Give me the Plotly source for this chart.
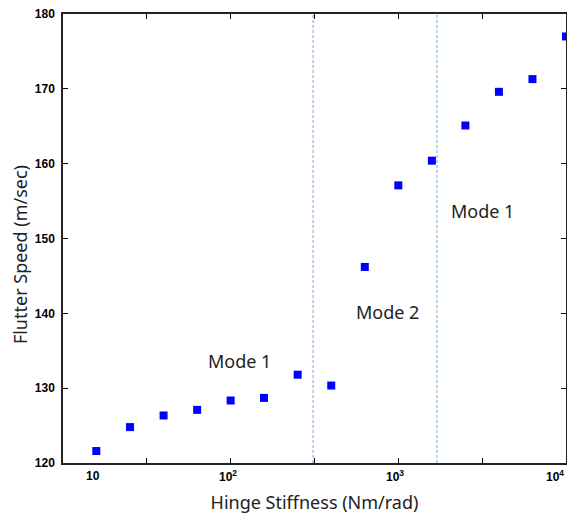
import math
import plotly.graph_objects as go

# Data
stiffness = [15.8, 25.1, 39.8, 63.1, 100, 158, 251, 398, 631, 1000, 1585, 2512, 3981, 6310, 10000]
flutter_speed = [121.6, 124.8, 126.35, 127.1, 128.35, 128.7, 131.8, 130.35,
                 146.2, 157.1, 160.4, 165.1, 169.6, 171.3, 177.0]
mode_boundaries = [310, 1700]
mode_labels = [("Mode 1", 113, 133.6), ("Mode 2", 867, 140.2), ("Mode 1", 3190, 153.7)]
xtick_marks = [10**1.5, 10**2, 10**2.5, 10**3, 10**3.5, 10**4]
xtick_labels = [(15.1, "10", "center"), (96, "10<sup>2</sup>", "center"),
                (955, "10<sup>3</sup>", "center"), (10000, "10<sup>4</sup>", "right")]
yticks = [120, 130, 140, 150, 160, 170, 180]

fig = go.Figure()
for xb in mode_boundaries:
    fig.add_trace(go.Scatter(
        x=[xb, xb], y=[120, 180], mode="lines",
        line=dict(color="#6aaae0", width=1, dash="3px,2px"),
        showlegend=False, hoverinfo="skip",
    ))

fig.add_trace(go.Scatter(
    x=stiffness, y=flutter_speed, mode="markers",
    marker=dict(symbol="square", size=8, color="#0000ff", line=dict(width=0)),
    cliponaxis=False, showlegend=False,
))

for txt, xv, yv in mode_labels:
    fig.add_annotation(x=math.log10(xv), y=yv, xref="x", yref="y", text=txt, showarrow=False,
                       font=dict(family="Noto Sans", size=18, color="#222222"))

for xv, txt, anc in xtick_labels:
    fig.add_annotation(x=math.log10(xv), y=0, xref="x", yref="paper", yshift=-13,
                       xanchor=anc, yanchor="middle",
                       text="<b>" + txt + "</b>", showarrow=False,
                       font=dict(family="Liberation Sans", size=12, color="#000000"))

# y-axis title (placed as in the reference, slightly below plot centre)
fig.add_annotation(x=0, y=0.463, xref="paper", yref="paper", xshift=-43,
                   xanchor="center", yanchor="middle", textangle=-90,
                   text="Flutter Speed (m/sec)", showarrow=False,
                   font=dict(family="Noto Sans", size=18, color="#222"))

fig.update_xaxes(
    type="log", range=[1, 4], tickvals=xtick_marks, showticklabels=False,
    ticks="inside", ticklen=5, tickwidth=1.2, tickcolor="#000",
    showline=True, linecolor="#222", linewidth=1.5, mirror="ticks",
    showgrid=False, zeroline=False, automargin=False,
    title=dict(text="Hinge Stiffness (Nm/rad)", standoff=33,
               font=dict(family="Noto Sans", size=18, color="#222")),
)
fig.update_yaxes(
    range=[120, 180], tickvals=yticks, ticktext=["<b>%d</b>" % v for v in yticks],
    ticks="inside", ticklen=5, tickwidth=1.2, tickcolor="#000",
    showline=True, linecolor="#222", linewidth=1.5, mirror="ticks",
    showgrid=False, zeroline=False, ticklabelstandoff=4, automargin=False,
    tickfont=dict(family="Liberation Sans", size=12, color="#000"),
)
fig.update_layout(
    width=567, height=515,
    margin=dict(l=63, r=1, t=14, b=52),
    plot_bgcolor="white", paper_bgcolor="white",
)
fig.write_html("out.html", config={"displayModeBar": False},
               post_script="document.body.style.margin='0';")
